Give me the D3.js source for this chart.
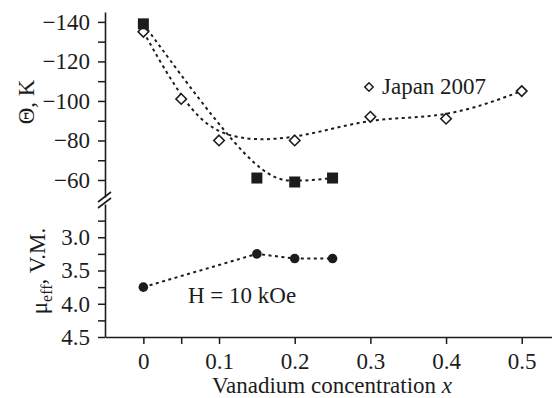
<!DOCTYPE html>
<html>
<head>
<meta charset="utf-8">
<script src="https://cdn.jsdelivr.net/npm/d3@7"></script>
<style>
  @font-face { font-family: "ChartSerif"; src: local("Liberation Serif"), local("LiberationSerif"), local("Times New Roman"); }
  @font-face { font-family: "ChartSerif"; font-style: italic; src: local("Liberation Serif Italic"), local("LiberationSerif-Italic"); }
</style>
</head>
<body style="margin:0">
<script>
  // values
  var concSquares = [0, 0.15, 0.2, 0.25];
  var thetaSquares = [-139, -61, -59, -61];
  var concJapan = [0, 0.05, 0.1, 0.2, 0.3, 0.4, 0.5];
  var thetaJapan = [-135, -101, -80, -80, -92, -91, -105];
  var concMu = [0, 0.15, 0.2, 0.25];
  var muEff = [3.75, 3.25, 3.32, 3.32];
  var xTicks = [0, 0.1, 0.2, 0.3, 0.4, 0.5];
  var thetaTicks = [-140, -120, -100, -80, -60];
  var muTicks = [3.0, 3.5, 4.0, 4.5];

  var W = 552, H = 398, ink = "#1c1c1c", FS = 23;
  var FONT = "'Times New Roman'";

  var svg = d3.select("body").append("svg").attr("width", W).attr("height", H);

  var x = d3.scaleLinear().domain([-0.0507, 0.54]).range([105, 552]);
  var yT = d3.scaleLinear().domain([-145, -51.4]).range([12, 197]);
  var yM = d3.scaleLinear().domain([2.5, 4.5]).range([204, 337]);

  function fmtTheta(d) { return "\u2212" + Math.abs(d); }

  function styleAxis(g) {
    g.attr("font-family", null).attr("font-size", FS);
    g.selectAll("path.domain").attr("stroke", ink).attr("stroke-width", 1.6);
    g.selectAll(".tick line").attr("stroke", ink).attr("stroke-width", 1.5);
    g.selectAll("text").attr("fill", ink).attr("font-size", FS).style("font-family", FONT);
  }

  function label(sel) {
    return sel.attr("font-size", FS).attr("fill", ink).style("font-family", FONT);
  }

  // left axes (top and bottom panels), minor ticks carry no label
  var thetaMinor = [-130, -110, -90, -70];
  svg.append("g").attr("transform", "translate(105,0)")
    .call(d3.axisLeft(yT).tickValues(thetaTicks.concat(thetaMinor)).tickSize(7).tickSizeOuter(0).tickPadding(8)
      .tickFormat(function(d) { return thetaTicks.indexOf(d) >= 0 ? fmtTheta(d) : ""; }))
    .call(styleAxis);

  var muMinor = [2.75, 3.25, 3.75, 4.25];
  svg.append("g").attr("transform", "translate(105,0)")
    .call(d3.axisLeft(yM).tickValues(muTicks.concat(muMinor)).tickSize(7).tickSizeOuter(0).tickPadding(8)
      .tickFormat(function(d) { return muTicks.indexOf(d) >= 0 ? d3.format(".1f")(d) : ""; }))
    .call(styleAxis);

  // axis break marks
  [197, 203].forEach(function(cy) {
    svg.append("line").attr("x1", 98).attr("y1", cy + 5).attr("x2", 111).attr("y2", cy - 5)
      .attr("stroke", ink).attr("stroke-width", 1.6);
  });

  // bottom axis
  svg.append("g").attr("transform", "translate(0,337)")
    .call(d3.axisBottom(x).tickValues(xTicks.concat([0.05])).tickSize(7).tickSizeOuter(0).tickPadding(9)
      .tickFormat(function(d) { return d === 0.05 ? "" : (d === 0 ? "0" : d3.format(".1f")(d)); }))
    .call(styleAxis);

  // axis titles
  svg.append("text").attr("transform", "translate(34,102) rotate(-90)")
    .attr("text-anchor", "middle").call(label).text("\u0398, K");

  var muLab = svg.append("text").attr("transform", "translate(47,271) rotate(-90)")
    .attr("text-anchor", "middle").call(label);
  muLab.append("tspan").text("\u03bc");
  muLab.append("tspan").attr("font-size", 16).attr("dy", "0.3em").text("eff");
  muLab.append("tspan").attr("dy", "-0.3em").text(", V.M.");

  var xLab = svg.append("text").attr("x", 332).attr("y", 393)
    .attr("text-anchor", "middle").call(label);
  xLab.append("tspan").text("Vanadium concentration ");
  xLab.append("tspan").attr("font-style", "italic").text("x");

  // dotted curves
  function dotted(xs, ys, yScale, curve) {
    var pts = xs.map(function(d, i) { return [x(d), yScale(ys[i])]; });
    svg.append("path").attr("d", d3.line().curve(curve)(pts))
      .attr("fill", "none").attr("stroke", ink).attr("stroke-width", 2)
      .attr("stroke-dasharray", "3,3.5");
  }
  dotted(concJapan, thetaJapan, yT, d3.curveBasis);
  dotted(concSquares, thetaSquares, yT, d3.curveBasis);
  dotted(concMu, muEff, yM, d3.curveLinear);

  // markers
  var diamond = d3.symbol().type(d3.symbolDiamond2).size(70);
  svg.selectAll(".dia").data(concJapan).enter().append("path")
    .attr("transform", function(d, i) { return "translate(" + x(d) + "," + yT(thetaJapan[i]) + ")"; })
    .attr("d", diamond).attr("fill", "#fff").attr("stroke", ink).attr("stroke-width", 1.6);

  svg.selectAll(".sq").data(concSquares).enter().append("rect")
    .attr("x", function(d) { return x(d) - 5.5; })
    .attr("y", function(d, i) { return yT(thetaSquares[i]) - 5.5; })
    .attr("width", 11).attr("height", 11).attr("fill", ink);

  svg.selectAll(".dot").data(concMu).enter().append("circle")
    .attr("cx", function(d) { return x(d); })
    .attr("cy", function(d, i) { return yM(muEff[i]); })
    .attr("r", 4.8).attr("fill", ink);

  // legend and note
  svg.append("path").attr("transform", "translate(369,87)").attr("d", d3.symbol().type(d3.symbolDiamond2).size(45))
    .attr("fill", "#fff").attr("stroke", ink).attr("stroke-width", 1.5);
  svg.append("text").attr("x", 382).attr("y", 94).call(label).text("Japan 2007");
  svg.append("text").attr("x", 188).attr("y", 303).call(label).text("H = 10 kOe");
</script>
</body>
</html>
